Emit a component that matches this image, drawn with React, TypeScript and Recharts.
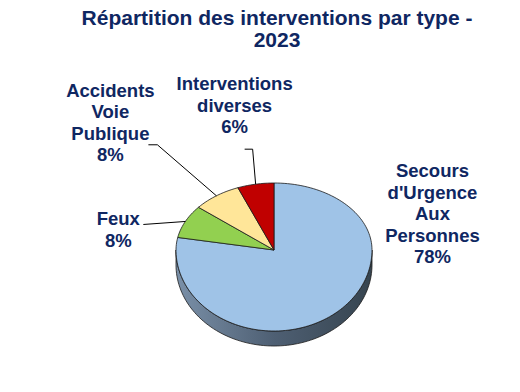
import { Pie, PieChart } from "recharts";

const categories = ["Secours d'Urgence Aux Personnes", "Feux", "Accidents Voie Publique", "Interventions diverses"];
const values = [78, 8, 8, 6];
const labelWords = [["Secours", "d'Urgence", "Aux", "Personnes"], ["Feux"], ["Accidents", "Voie", "Publique"], ["Interventions", "diverses"]];
const sliceColors = ["#9fc3e7", "#92d050", "#ffe699", "#c00000"];

const data = categories.map((name, i) => ({ name, value: values[i] }));

const TEXT = "#0f2762";
const FONT = "'Liberation Sans', Arial, sans-serif";
const DEPTH = 15;
const TOP_RATIO = 67 / 98; // back half of the ellipse
const FRONT_RATIO = 81 / 98; // front half, bigger because of perspective

// label layout relative to the slice anchor: text centre / first baseline, leader points
const labelLayout = [
  { dx: 96, dy: -135, line: [] as number[][] },
  { dx: -67, dy: 4, line: [[-42, 3]] },
  { dx: -106, dy: -99, line: [[-68, -51], [-59, -51]] },
  { dx: -21, dy: -94, line: [[-11, -35], [-3, -35]] },
];

function pt(cx: number, cy: number, r: number, deg: number): [number, number] {
  const t = (deg * Math.PI) / 180;
  const s = Math.sin(t);
  const ry = s > 0 ? r * TOP_RATIO : r * FRONT_RATIO;
  return [cx + r * Math.cos(t), cy - ry * s];
}

function arcPoints(cx: number, cy: number, r: number, a: number, b: number, dy = 0) {
  const n = Math.max(2, Math.ceil(Math.abs(b - a) / 2));
  const out: string[] = [];
  for (let i = 0; i <= n; i++) {
    const [x, y] = pt(cx, cy, r, a + ((b - a) * i) / n);
    out.push(`${x.toFixed(2)},${(y + dy).toFixed(2)}`);
  }
  return out;
}

function TopShape(props: any) {
  const { cx, cy, outerRadius, startAngle, endAngle, fill } = props;
  const pts = arcPoints(cx, cy, outerRadius, startAngle, endAngle);
  return <path d={`M${cx},${cy} L${pts.join(" L")} Z`} fill={fill} stroke="#1a1a1a" strokeWidth={0.8} strokeLinejoin="round" />;
}

function SideShape(props: any) {
  const { cx, cy, outerRadius, startAngle, endAngle } = props;
  const lo = Math.min(startAngle, endAngle);
  const hi = Math.max(startAngle, endAngle);
  const parts: JSX.Element[] = [];
  [-360, 0, 360].forEach((k) => {
    const a = Math.max(lo, -180 + k);
    const b = Math.min(hi, k);
    if (b - a <= 0) return;
    const top = arcPoints(cx, cy, outerRadius, a, b);
    const bottom = arcPoints(cx, cy, outerRadius, b, a, DEPTH);
    parts.push(
      <path key={k} d={`M${top.join(" L")} L${bottom.join(" L")} Z`} fill="url(#side)" stroke="#1a1a1a" strokeWidth={0.8} strokeLinejoin="round" />
    );
  });
  return <g>{parts}</g>;
}

function renderLabel(props: any) {
  const { cx, cy, outerRadius, midAngle, index, percent } = props;
  const [ax, ay] = pt(cx, cy, outerRadius, midAngle);
  const lay = labelLayout[index];
  const lines = [...labelWords[index], `${Math.round(percent * 100)}%`];
  const leader = lay.line.length ? [...lay.line.map(([x, y]) => `${ax + x},${ay + y}`), `${ax},${ay}`].join(" ") : null;
  return (
    <g>
      {leader && <polyline points={leader} fill="none" stroke="#000" strokeWidth={1} />}
      <text x={ax + lay.dx} y={ay + lay.dy} textAnchor="middle" fill={TEXT} fontFamily={FONT} fontWeight="bold" fontSize={18.5}>
        {lines.map((l, i) => (
          <tspan key={i} x={ax + lay.dx} dy={i === 0 ? 0 : 21.5}>
            {l}
          </tspan>
        ))}
      </text>
    </g>
  );
}

export default function App() {
  return (
    <div style={{ position: "absolute", left: 0, top: 0, width: 520, height: 392, background: "#fff" }}>
      <PieChart width={520} height={392} margin={{ top: 0, right: 0, bottom: 0, left: 0 }}>
        <defs>
          <linearGradient id="side" x1="176" x2="372" y1="0" y2="0" gradientUnits="userSpaceOnUse">
            <stop offset="0%" stopColor="#7a90a8" />
            <stop offset="50%" stopColor="#4e5f73" />
            <stop offset="100%" stopColor="#36444f" />
          </linearGradient>
        </defs>
        <text x={277} y={25} textAnchor="middle" fill={TEXT} fontFamily={FONT} fontWeight="bold" fontSize={21}>
          Répartition des interventions par type -
        </text>
        <text x={277} y={47} textAnchor="middle" fill={TEXT} fontFamily={FONT} fontWeight="bold" fontSize={21}>
          2023
        </text>
        <Pie
          data={data}
          dataKey="value"
          cx={274}
          cy={250}
          outerRadius={98}
          startAngle={90}
          endAngle={-270}
          isAnimationActive={false}
          shape={SideShape}
          label={false}
          labelLine={false}
        />
        <Pie
          data={data}
          dataKey="value"
          cx={274}
          cy={250}
          outerRadius={98}
          startAngle={90}
          endAngle={-270}
          isAnimationActive={false}
          shape={(p: any) => <TopShape {...p} fill={sliceColors[p.index]} />}
          label={renderLabel}
          labelLine={false}
        />
      </PieChart>
    </div>
  );
}
